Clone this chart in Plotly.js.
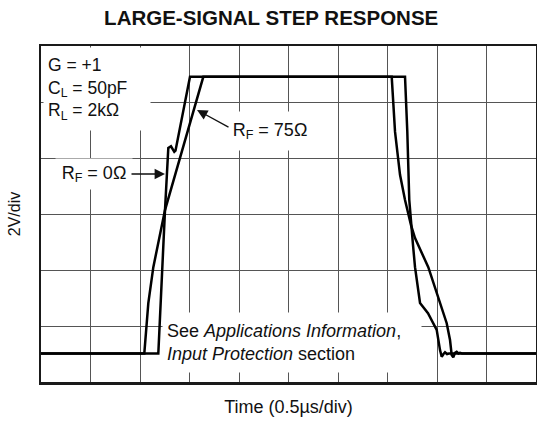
<!DOCTYPE html>
<html>
<head>
<meta charset="utf-8">
<script src="https://cdn.plot.ly/plotly-3.0.1.min.js"></script>
<style>html,body{margin:0;padding:0;background:#fff;}#chart{width:537px;height:421px;}</style>
</head>
<body>
<div id="chart"></div>
<script>
// Time in divisions (0.5 µs/div), output in divisions (2 V/div)
const timeRF0 = [0, 2.37, 2.505, 2.539, 2.572, 2.626, 2.693, 2.717, 3.01, 7.354, 7.40, 7.44, 7.475, 7.515, 7.556, 7.657, 7.818, 7.994, 8.061, 8.095, 8.131, 8.162, 8.202, 8.242, 10];
const voutRF0 = [0.51, 0.51, 3.07, 3.70, 4.18, 4.21, 4.11, 4.13, 5.45, 5.45, 4.47, 3.25, 2.80, 2.45, 2.05, 1.41, 1.23, 0.93, 0.57, 0.45, 0.50, 0.53, 0.50, 0.51, 0.51];
const timeRF75 = [0, 2.087, 2.168, 2.269, 2.505, 3.279, 7.085, 7.152, 7.253, 7.354, 7.475, 7.556, 7.824, 8.026, 8.196, 8.263, 8.297, 8.329, 8.364, 8.398, 8.434, 8.465, 8.505, 10];
const voutRF75 = [0.51, 0.51, 1.41, 2.05, 3.07, 5.45, 5.45, 4.47, 3.70, 3.25, 2.80, 2.57, 2.05, 1.52, 1.05, 0.75, 0.48, 0.44, 0.52, 0.54, 0.51, 0.52, 0.51, 0.51];

const chartTitle = 'LARGE-SIGNAL STEP RESPONSE';
const xTitle = 'Time (0.5\u00b5s/div)';
const yTitle = '2V/div';
const condText = 'G = +1<br>C<sub>L</sub> = 50pF<br>R<sub>L</sub> = 2k\u03a9';
const label0 = 'R<sub>F</sub> = 0\u03a9';
const label75 = 'R<sub>F</sub> = 75\u03a9';
const noteText = 'See <i>Applications Information</i>,<br><i>Input Protection</i> section';

const FONT = 'Liberation Sans, Arial, Helvetica, sans-serif';

const traces = [
  {x: timeRF75, y: voutRF75, mode: 'lines', line: {color: '#000', width: 2.5}, name: 'RF=75', hoverinfo: 'skip'},
  {x: timeRF0, y: voutRF0, mode: 'lines', line: {color: '#000', width: 2.5}, name: 'RF=0', hoverinfo: 'skip'}
];

const layout = {
  width: 537, height: 421,
  margin: {l: 41, r: 1, t: 46, b: 39},
  paper_bgcolor: '#fff', plot_bgcolor: '#fff',
  showlegend: false,
  font: {family: FONT, color: '#111', size: 16},
  title: {text: chartTitle, font: {family: FONT, size: 20.5, color: '#111', weight: 'bold'}, x: 0.505, xanchor: 'center', y: 0.958, yanchor: 'middle'},
  xaxis: {range: [0, 10], dtick: 1, tick0: 0, showgrid: true, gridcolor: '#555', gridwidth: 1,
          showticklabels: false, ticks: '', zeroline: false, showline: true, mirror: true,
          linecolor: '#1a1a1a', linewidth: 2.5, fixedrange: true,
          title: {text: xTitle, font: {size: 18, family: FONT, color: '#111'}, standoff: 17}},
  yaxis: {range: [0, 6], dtick: 1, tick0: 0, showgrid: true, gridcolor: '#555', gridwidth: 1,
          showticklabels: false, ticks: '', zeroline: false, showline: true, mirror: true,
          linecolor: '#1a1a1a', linewidth: 2.5, fixedrange: true,
          title: {text: yTitle, font: {size: 16, family: FONT, color: '#111'}, standoff: 14}},
  annotations: [
    {x: 1.141, y: 5.23, xref: 'x', yref: 'y', text: condText, showarrow: false, align: 'left', valign: 'middle',
     width: 98, height: 74, borderpad: 4, bgcolor: '#fff', font: {size: 17.5, family: FONT, color: '#111'}},
    {x: 1.061, y: 3.723, xref: 'x', yref: 'y', text: label0, showarrow: false, align: 'center',
     width: 72, height: 26, borderpad: 2, bgcolor: '#fff', font: {size: 18, family: FONT, color: '#111'}},
    {x: 4.626, y: 4.482, xref: 'x', yref: 'y', text: label75, showarrow: false, align: 'center',
     width: 82, height: 34, borderpad: 2, bgcolor: '#fff', font: {size: 18, family: FONT, color: '#111'}},
    {x: 5.071, y: 0.705, xref: 'x', yref: 'y', text: noteText, showarrow: false, align: 'left', valign: 'middle',
     width: 250, height: 51, borderpad: 4, bgcolor: '#fff', font: {size: 18, family: FONT, color: '#111'}},
    {x: 2.505, y: 3.714, xref: 'x', yref: 'y', ax: 1.798, ay: 3.714, axref: 'x', ayref: 'y', text: '',
     showarrow: true, arrowhead: 2, arrowsize: 1.6, arrowwidth: 1.3, arrowcolor: '#111'},
    {x: 3.152, y: 4.857, xref: 'x', yref: 'y', ax: 3.818, ay: 4.536, axref: 'x', ayref: 'y', text: '',
     showarrow: true, arrowhead: 2, arrowsize: 1.6, arrowwidth: 1.3, arrowcolor: '#111'}
  ]
};

Plotly.newPlot('chart', traces, layout, {displayModeBar: false, staticPlot: true});
</script>
</body>
</html>
